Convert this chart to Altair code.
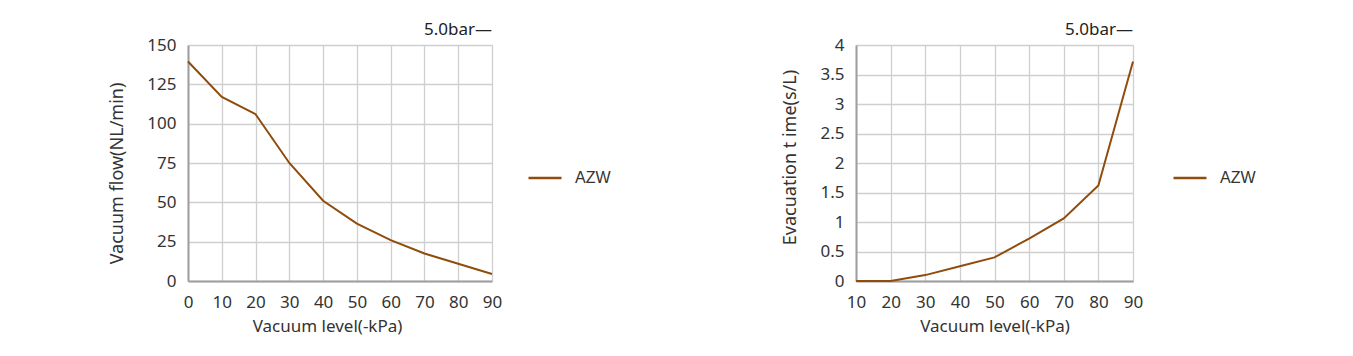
import altair as alt
import pandas as pd

flow_x = [0, 10, 20, 30, 40, 50, 60, 70, 80, 90]
flow_y = [139.5, 117, 106, 75, 51, 36.5, 26, 17.5, 11, 4.5]
evac_x = [10, 20, 30, 40, 50, 60, 70, 80, 90]
evac_y = [0.0, 0.0, 0.1, 0.25, 0.4, 0.72, 1.06, 1.62, 3.72]
flow_ticks = [0, 25, 50, 75, 100, 125, 150]
evac_ticks = [0, 0.5, 1, 1.5, 2, 2.5, 3, 3.5, 4]
series = "AZW"
pressure = "5.0bar—"

COLOR = "#8f4c0c"
FONT = "Noto Sans"

df1 = pd.DataFrame({"x": flow_x, "y": flow_y, "s": series})
df2 = pd.DataFrame({"x": evac_x, "y": evac_y, "s": series})

def axis(title, values, pad, tpad, tsize=17, **kw):
    return alt.Axis(title=title, values=values, ticks=False, labelPadding=pad,
                    titlePadding=tpad, labelFontSize=17, titleFontSize=tsize,
                    labelColor="#333", titleColor="#333", titleFontWeight="normal",
                    domainColor="#9e9e9e", domainWidth=2, gridColor="#cfcfcf",
                    gridWidth=1.3,
                    labelFont=FONT, titleFont=FONT, labelExpr="datum.value + ''",
                    labelOverlap=False, labelFlush=False, **kw)

def legend(lx):
    return alt.Legend(title=None, orient="none", legendX=lx, legendY=115,
                      symbolType="stroke", symbolStrokeWidth=2.5, symbolSize=1089,
                      labelFontSize=16, labelColor="#333", labelFont="Liberation Sans",
                      labelOffset=12)

def title():
    return alt.TitleParams(pressure, anchor="end", frame="group", fontSize=17,
                           fontWeight="normal", font=FONT, color="#222", offset=-3)

c1 = alt.Chart(df1).mark_line(strokeWidth=2).encode(
    x=alt.X("x:Q", scale=alt.Scale(domain=[0, 90], nice=False),
            axis=axis("Vacuum level(-kPa)", flow_x, 13, 8, titleX=139)),
    y=alt.Y("y:Q", scale=alt.Scale(domain=[0, 150], nice=False),
            axis=axis("Vacuum flow(NL/min)", flow_ticks, 12, 20, tsize=18, titleY=128)),
    color=alt.Color("s:N", scale=alt.Scale(range=[COLOR]), legend=legend(339)),
).properties(width=304, height=236, title=title())

c2 = alt.Chart(df2).mark_line(strokeWidth=2).encode(
    x=alt.X("x:Q", scale=alt.Scale(domain=[10, 90], nice=False),
            axis=axis("Vacuum level(-kPa)", evac_x, 13, 8)),
    y=alt.Y("y:Q", scale=alt.Scale(domain=[0, 4], nice=False),
            axis=axis("Evacuation t ime(s/L)", evac_ticks, 12, 20, tsize=18, titleY=112)),
    color=alt.Color("s:N", scale=alt.Scale(range=[COLOR]), legend=legend(316)),
).properties(width=277, height=236, title=title())

chart = alt.hconcat(c1, c2, spacing=169).resolve_scale(color="independent").properties(
    padding={"left": 108, "top": 20, "right": 5, "bottom": 5}
).configure_view(stroke=None).configure(background="white")

chart.save("out.html", embed_options={"renderer": "svg", "actions": False})
